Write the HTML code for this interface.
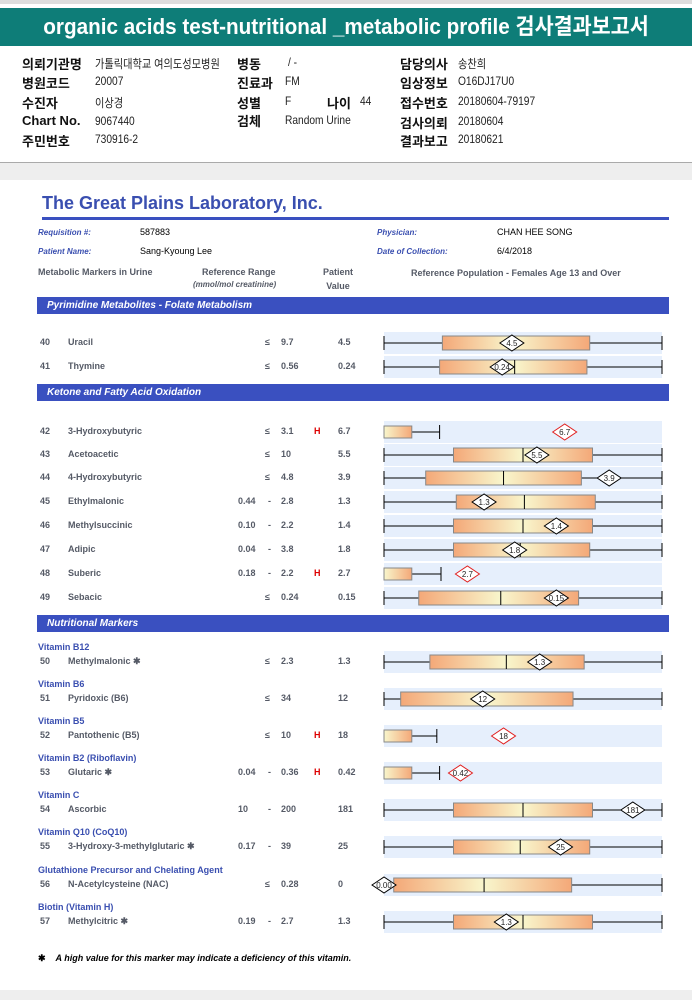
<!DOCTYPE html>
<html><head><meta charset="utf-8">
<style>
body{margin:0;width:692px;height:1000px;position:relative;background:#fff;font-family:"Liberation Sans","Noto Sans CJK KR",sans-serif;overflow:hidden}
.a{position:absolute;white-space:nowrap}
.k{font-size:13px;font-weight:bold;color:#111}
.v{font-size:12px;color:#222;transform:scaleX(.85);transform-origin:left}
.r{font-size:9px;font-weight:bold;color:#555a66}
.h{font-size:9px;font-weight:bold;color:#d00}
.sub{font-size:9px;font-weight:bold;color:#3a4fb0}
.sec{position:absolute;left:37px;width:632px;height:17px;background:#3a50c0;color:#fff;font-size:10px;font-weight:bold;font-style:italic;line-height:17px;padding-left:10px;box-sizing:border-box}
.lab{font-size:8px;font-style:italic;color:#3a4fb0;font-weight:bold}
</style></head><body>
<div class="a" style="left:0;top:0;width:692px;height:4px;background:#ddd"></div>
<div class="a" style="left:0;top:8px;width:692px;height:38px;background:#0e7d78"></div>
<div class="a" style="left:0;top:8px;width:692px;height:38px;color:#fff;font-size:22px;font-weight:bold;line-height:38px;text-align:center;transform:scaleX(.94)">organic acids test-nutritional _metabolic profile 검사결과보고서</div>

<div>
<div class="a k" style="left:22px;top:54px">의뢰기관명</div><div class="a v" style="left:95px;top:55px">가톨릭대학교 여의도성모병원</div>
<div class="a k" style="left:237px;top:54px">병동</div><div class="a v" style="left:288px;top:55px">/ -</div>
<div class="a k" style="left:400px;top:54px">담당의사</div><div class="a v" style="left:458px;top:55px">송찬희</div>
<div class="a k" style="left:22px;top:73px">병원코드</div><div class="a v" style="left:95px;top:74px">20007</div>
<div class="a k" style="left:237px;top:73px">진료과</div><div class="a v" style="left:285px;top:74px">FM</div>
<div class="a k" style="left:400px;top:73px">임상정보</div><div class="a v" style="left:458px;top:74px">O16DJ17U0</div>
<div class="a k" style="left:22px;top:93px">수진자</div><div class="a v" style="left:95px;top:94px">이상경</div>
<div class="a k" style="left:237px;top:93px">성별</div><div class="a v" style="left:285px;top:94px">F</div>
<div class="a k" style="left:327px;top:93px">나이</div><div class="a v" style="left:360px;top:94px">44</div>
<div class="a k" style="left:400px;top:93px">접수번호</div><div class="a v" style="left:458px;top:94px">20180604-79197</div>
<div class="a k" style="left:22px;top:113px">Chart No.</div><div class="a v" style="left:95px;top:114px">9067440</div>
<div class="a k" style="left:237px;top:111px">검체</div><div class="a v" style="left:285px;top:113px">Random Urine</div>
<div class="a k" style="left:400px;top:113px">검사의뢰</div><div class="a v" style="left:458px;top:114px">20180604</div>
<div class="a k" style="left:22px;top:131px">주민번호</div><div class="a v" style="left:95px;top:132px">730916-2</div>
<div class="a k" style="left:400px;top:131px">결과보고</div><div class="a v" style="left:458px;top:132px">20180621</div>
</div>
<div class="a" style="left:0;top:162px;width:692px;height:17px;background:#eee;border-top:1px solid #aaa"></div>
<div class="a" style="left:0;top:990px;width:692px;height:10px;background:#eee"></div>

<div class="a" style="left:42px;top:193px;font-size:18px;font-weight:bold;color:#3a4fb0">The Great Plains Laboratory, Inc.</div>
<div class="a" style="left:42px;top:217px;width:627px;height:3px;background:#3a50c0"></div>
<div class="a lab" style="left:38px;top:228px">Requisition #:</div>
<div class="a" style="left:140px;top:227px;font-size:9px">587883</div>
<div class="a lab" style="left:377px;top:228px">Physician:</div>
<div class="a" style="left:497px;top:227px;font-size:9px">CHAN HEE SONG</div>
<div class="a lab" style="left:38px;top:247px">Patient Name:</div>
<div class="a" style="left:140px;top:246px;font-size:9px">Sang-Kyoung Lee</div>
<div class="a lab" style="left:377px;top:247px">Date of Collection:</div>
<div class="a" style="left:497px;top:246px;font-size:9px">6/4/2018</div>
<div class="a r" style="left:38px;top:267px">Metabolic Markers in Urine</div>
<div class="a r" style="left:202px;top:267px">Reference Range</div>
<div class="a" style="left:193px;top:280px;font-size:8px;font-style:italic;color:#555a66;font-weight:bold">(mmol/mol creatinine)</div>
<div class="a r" style="left:323px;top:267px;text-align:center">Patient<br><span style="line-height:18px">Value</span></div>
<div class="a r" style="left:411px;top:268px">Reference Population - Females Age 13 and Over</div>

<div class="sec" style="top:297px">Pyrimidine Metabolites - Folate Metabolism</div>
<div class="sec" style="top:384px">Ketone and Fatty Acid Oxidation</div>
<div class="sec" style="top:615px">Nutritional Markers</div>

<div id="rows"></div>
<svg id="chart" class="a" style="left:0;top:0" width="692" height="1000">
<defs>
<linearGradient id="gL" x1="0" x2="1"><stop offset="0" stop-color="#f4a878"/><stop offset="1" stop-color="#f8f6cc"/></linearGradient>
<linearGradient id="gR" x1="0" x2="1"><stop offset="0" stop-color="#f8f6cc"/><stop offset="1" stop-color="#f4a878"/></linearGradient>
</defs>
</svg>
<div class="a" style="left:38px;top:953px;font-size:9px;font-weight:bold;font-style:italic"><span style="font-style:normal;margin-right:10px">✱</span>A high value for this marker may indicate a deficiency of this vitamin.</div>

<script>
// Row data (positions on normalized 0-100 reference-population scale)
const ids=[40,41,42,43,44,45,46,47,48,49,50,51,52,53,54,55,56,57];
const names=["Uracil","Thymine","3-Hydroxybutyric","Acetoacetic","4-Hydroxybutyric","Ethylmalonic","Methylsuccinic","Adipic","Suberic","Sebacic","Methylmalonic ✱","Pyridoxic (B6)","Pantothenic (B5)","Glutaric ✱","Ascorbic","3-Hydroxy-3-methylglutaric ✱","N-Acetylcysteine (NAC)","Methylcitric ✱"];
const refLow=["","","","","",
"0.44","0.10","0.04","0.18","","","","","0.04","10","0.17","","0.19"];
const refHigh=["9.7","0.56","3.1","10","4.8","2.8","2.2","3.8","2.2","0.24","2.3","34","10","0.36","200","39","0.28","2.7"];
const valueLabels=["4.5","0.24","6.7","5.5","3.9","1.3","1.4","1.8","2.7","0.15","1.3","12","18","0.42","181","25","0","1.3"];
const diamondLabels=["4.5","0.24","6.7","5.5","3.9","1.3","1.4","1.8","2.7","0.15","1.3","12","18","0.42","181","25","0.00","1.3"];
const high=[0,0,1,0,0,0,0,0,1,0,0,0,1,1,0,0,0,0];
const groups=["","","","","","","","","","","Vitamin B12","Vitamin B6","Vitamin B5","Vitamin B2 (Riboflavin)","Vitamin C","Vitamin Q10 (CoQ10)","Glutathione Precursor and Chelating Agent","Biotin (Vitamin H)"];
const whiskerMin=[0,0,null,0,0,0,0,0,null,0,0,0,null,null,0,0,0,0];
const q1=[21,20,0,25,15,26,25,25,0,12.5,16.5,6,0,0,25,25,3.5,25];
const median=[46,47,null,50,43,50.5,50,49,null,42,44,null,null,null,50,49,36,50];
const q3=[74,73,10,75,71,76,75,74,10,70,72,68,10,10,75,74,67.5,75];
const whiskerMax=[100,100,20,100,100,100,100,100,20.5,100,100,100,19,20,100,100,100,100];
const patient=[46,42.5,65,55,81,36,62,47,30,62,56,35.5,43,27.5,89.5,63.5,0,44];
const rowY=[343,367,432,455,478,502,526,550,574,598,662,699,736,773,810,847,885,922];

const X0=384,X1=662;
const xs=v=>X0+v/100*(X1-X0);
const svg=document.getElementById('chart');
const NS='http://www.w3.org/2000/svg';
function mk(tag,at){const e=document.createElementNS(NS,tag);for(const k in at)e.setAttribute(k,at[k]);svg.appendChild(e);return e;}
const rows=document.getElementById('rows');
function txt(cls,x,y,s,name){const d=document.createElement('div');d.className='a '+cls;d.style.left=x+'px';d.style.top=y+'px';d.textContent=s;


rows.appendChild(d);}
ids.forEach((id,i)=>{
 const y=rowY[i];
 if(groups[i])txt('sub',38,y-20,groups[i],'group-label-'+id);
 txt('r',40,y-6,String(id),'marker-number-'+id);
 txt('r',68,y-6,names[i],'marker-name-'+id);
 if(refLow[i]){txt('r',238,y-6,refLow[i],'ref-low-'+id);txt('r',268,y-6,'-','ref-dash-'+id);}
 else txt('r',265,y-6,'≤','ref-le-'+id);
 txt('r',281,y-6,refHigh[i],'ref-high-'+id);
 if(high[i])txt('h',314,y-6,'H','high-flag-'+id);
 txt('r',338,y-6,valueLabels[i],'patient-value-'+id);
 const band=mk('rect',{x:X0,y:y-11,width:X1-X0,height:22,fill:'#e6effc'});
 
 
 if(whiskerMin[i]!=null){mk('line',{x1:xs(whiskerMin[i]),x2:xs(q1[i]),y1:y,y2:y,stroke:'#000'});mk('line',{x1:xs(whiskerMin[i]),x2:xs(whiskerMin[i]),y1:y-7,y2:y+7,stroke:'#000'});}
 mk('line',{x1:xs(q3[i]),x2:xs(whiskerMax[i]),y1:y,y2:y,stroke:'#000'});
 mk('line',{x1:xs(whiskerMax[i]),x2:xs(whiskerMax[i]),y1:y-7,y2:y+7,stroke:'#000'});
 let box;
 if(median[i]==null){
  const mid=whiskerMin[i]==null?null:(q1[i]+q3[i])/2;
  if(mid==null){box=mk('rect',{x:xs(q1[i]),y:y-6,width:xs(q3[i])-xs(q1[i]),height:12,fill:'url(#gR)',stroke:'#888'});}
  else{mk('rect',{x:xs(q1[i]),y:y-7,width:xs(mid)-xs(q1[i]),height:14,fill:'url(#gL)'});mk('rect',{x:xs(mid),y:y-7,width:xs(q3[i])-xs(mid),height:14,fill:'url(#gR)'});
   box=mk('rect',{x:xs(q1[i]),y:y-7,width:xs(q3[i])-xs(q1[i]),height:14,fill:'none',stroke:'#888'});}
 } else {
  mk('rect',{x:xs(q1[i]),y:y-7,width:xs(median[i])-xs(q1[i]),height:14,fill:'url(#gL)'});
  mk('rect',{x:xs(median[i]),y:y-7,width:xs(q3[i])-xs(median[i]),height:14,fill:'url(#gR)'});
  box=mk('rect',{x:xs(q1[i]),y:y-7,width:xs(q3[i])-xs(q1[i]),height:14,fill:'none',stroke:'#888'});
  mk('line',{x1:xs(median[i]),x2:xs(median[i]),y1:y-7,y2:y+7,stroke:'#000'});
 }
 
 
 const px=xs(patient[i]),c=high[i]?'#e02020':'#000';
 const d=mk('polygon',{points:`${px-12},${y} ${px},${y-8} ${px+12},${y} ${px},${y+8}`,fill:'#fff',stroke:c});
 
 
 const t=mk('text',{x:px,y:y+3,'text-anchor':'middle','font-size':'8','font-family':'Liberation Sans, sans-serif',fill:'#222'});
 t.textContent=diamondLabels[i];
});
</script>
</body></html>
